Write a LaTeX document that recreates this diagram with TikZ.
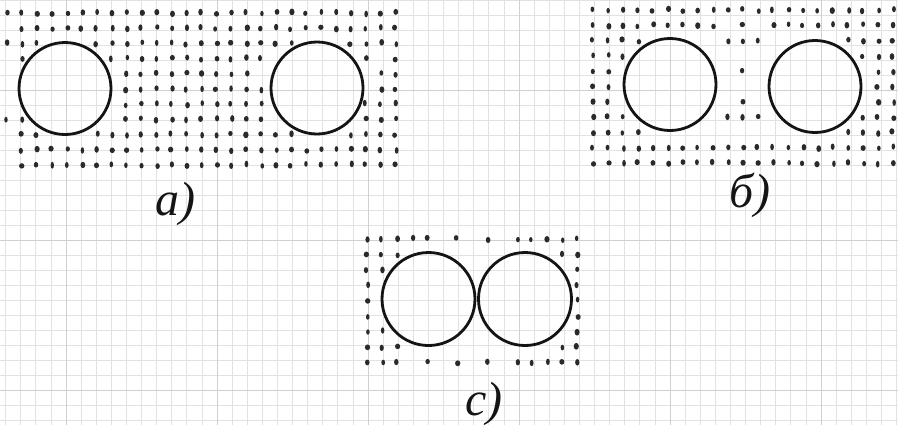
\documentclass[tikz,border=0pt]{standalone}
\usepackage{fontspec}
\newfontfamily\handfont{Liberation Serif}
\usepackage{xcolor}
\definecolor{paper}{HTML}{FFFFFF}
\definecolor{gridgrey}{HTML}{E2E2E2}
\definecolor{majorgrey}{HTML}{D0D0D0}
\definecolor{ink}{HTML}{141414}
\definecolor{pencil}{HTML}{2A2A2A}
\usepackage{tikz}
\tikzset{
  gridline/.style ={draw=gridgrey,line width=0.35pt},
  majorline/.style={draw=majorgrey,line width=0.5pt},
  ball/.style     ={draw=ink,line width=1.4pt},
  blob/.style     ={fill=pencil},
  lbl/.style      ={font=\handfont\itshape\fontsize{24}{26}\selectfont,
                    text=ink,inner sep=0pt},
}

\begin{document}
\begin{tikzpicture}[x=0.5pt,y=-0.5pt]
\pgfmathsetseed{11}
\useasboundingbox[fill=paper] (0,0) rectangle (898,425);
%---------------- squared paper
\foreach \k in {0,...,59} \draw[gridline] (5.6+15.1*\k,0) -- (5.6+15.1*\k,425);
\foreach \j in {0,...,28} \draw[gridline] (0,0.7+15*\j) -- (898,0.7+15*\j);
\foreach \k in {4,14,...,54} \draw[majorline] (5.6+15.1*\k,0) -- (5.6+15.1*\k,425);
\foreach \j in {6,16,26} \draw[majorline] (0,0.7+15*\j) -- (898,0.7+15*\j);
%---------------- a) far apart
\foreach \j/\a/\b in {0/0/26, 1/1/26, 2/0/2, 2/6/19, 2/23/26,
    3/1/1, 3/7/17, 3/24/24, 3/26/26, 4/8/16, 4/25/26, 5/8/17, 5/25/26,
    6/8/17, 6/24/26, 7/0/1, 7/8/17, 7/24/26, 8/1/2, 8/6/19, 8/23/26,
    9/1/26, 10/1/26}
  \foreach \k in {\a,...,\b}
    \fill[blob] (7+14.95*\k+1.2*rand,13+15.2*\j+1.2*rand)
      ellipse[x radius=1.1pt+0.25pt*rand,y radius=1.5pt+0.2pt*rand];
\draw[ball] (65,88.5) circle[radius=46];
\draw[ball] (317,88) circle[radius=46];
\node[lbl] (labela) at (175,204) {a)};
%---------------- b) closer
\foreach \j/\a/\b in {0/0/20, 1/0/8, 1/10/10, 1/12/20, 2/0/3, 2/9/11, 2/17/20,
    3/0/2, 3/18/20, 4/0/1, 4/10/10, 4/19/20, 5/0/1, 5/19/20,
    6/0/1, 6/10/10, 6/19/20, 7/0/2, 7/9/11, 7/18/20, 8/0/3, 8/17/20,
    9/0/20, 10/0/20}
  \foreach \k in {\a,...,\b}
    \fill[blob] (593+15*\k+1.2*rand,10+15.3*\j+1.2*rand)
      ellipse[x radius=1.1pt+0.25pt*rand,y radius=1.5pt+0.2pt*rand];
\draw[ball] (670,84.5) circle[radius=46];
\draw[ball] (815,86.5) circle[radius=46];
\node[lbl] (labelb) at (750,195) {б)};
%---------------- c) touching
\foreach \j/\a/\b in {0/0/4, 0/6/6, 0/8/8, 0/10/14, 1/0/2, 1/13/14,
    2/0/1, 2/14/14, 3/0/0, 3/14/14, 4/0/0, 4/14/14, 5/0/0, 5/14/14,
    6/0/1, 6/14/14, 7/0/2, 7/13/14, 8/0/2, 8/4/4, 8/6/6, 8/8/8, 8/10/14}
  \foreach \k in {\a,...,\b}
    \fill[blob] (367+15*\k+1.2*rand,239+15.4*\j+1.2*rand)
      ellipse[x radius=1.1pt+0.25pt*rand,y radius=1.5pt+0.2pt*rand];
\draw[ball] (428.5,299) circle[radius=46.5];
\draw[ball] (525,299) circle[radius=46.5];
\node[lbl] (labelc) at (484,404) {c)};
\end{tikzpicture}
\end{document}
